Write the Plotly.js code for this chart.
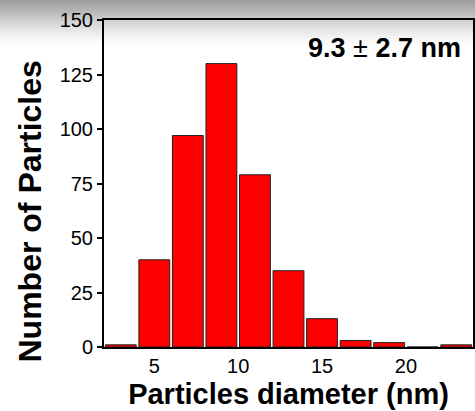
<!DOCTYPE html>
<html>
<head>
<meta charset="utf-8">
<script src="https://cdn.plot.ly/plotly-3.0.1.min.js"></script>
<style>
html,body{margin:0;padding:0;}
body{width:475px;height:411px;background:linear-gradient(to bottom,#9c9c9c 0px,#b4b4b4 10px,#cfcfcf 20px,#e6e6e6 30px,#f8f8f8 40px,#ffffff 48px,#ffffff 100%);}
#chart{width:475px;height:411px;}
</style>
</head>
<body>
<div id="chart"></div>
<script>
// Bin centers (nm) and counts
const diameters = [3, 5, 7, 9, 11, 13, 15, 17, 19, 21, 23];
const counts = [1, 40, 97, 130, 79, 35, 13, 3, 2, 0, 1];
const xTicks = [5, 10, 15, 20];
const yTicks = [0, 25, 50, 75, 100, 125, 150];
const statLabel = "<b>9.3</b> \u00B1 <b>2.7 nm</b>";
const xTitle = "Particles diameter (nm)";
const yTitle = "Number of Particles";

const FONT = 'Liberation Sans, Arial, sans-serif';

const trace = {
  type: 'bar',
  x: diameters,
  y: counts,
  width: 1.84,
  marker: {color: '#ff0000', line: {color: '#222222', width: 1}},
  hoverinfo: 'x+y'
};

const layout = {
  width: 475, height: 411,
  margin: {l: 104, r: 2, t: 20, b: 64},
  paper_bgcolor: 'rgba(0,0,0,0)',
  plot_bgcolor: 'rgba(0,0,0,0)',
  showlegend: false,
  font: {family: FONT, color: '#000'},
  xaxis: {
    range: [2, 24],
    tickvals: xTicks,
    ticks: '',
    showgrid: false, zeroline: false,
    showline: true, linecolor: '#000', linewidth: 2, mirror: true,
    tickfont: {size: 20, family: FONT},
    title: {text: xTitle, font: {size: 29, family: FONT, weight: 'bold'}, standoff: 8}
  },
  yaxis: {
    range: [0, 150],
    tickvals: yTicks,
    ticks: 'outside', ticklen: 5, tickwidth: 2, tickcolor: '#000',
    showgrid: false, zeroline: false,
    showline: true, linecolor: '#000', linewidth: 2, mirror: true,
    tickfont: {size: 20, family: FONT}
  },
  annotations: [{
    xref: 'paper', yref: 'paper', x: 0.972, y: 0.914,
    xanchor: 'right', yanchor: 'middle', showarrow: false,
    text: statLabel,
    font: {size: 27, family: FONT, color: '#000'}
  }, {
    xref: 'paper', yref: 'paper', x: -0.2, y: 0.415,
    xanchor: 'center', yanchor: 'middle', showarrow: false,
    textangle: -90,
    text: '<b>' + yTitle + '</b>',
    font: {size: 32, family: FONT, color: '#000'}
  }]
};

Plotly.newPlot('chart', [trace], layout, {displayModeBar: false, staticPlot: true});
</script>
</body>
</html>
